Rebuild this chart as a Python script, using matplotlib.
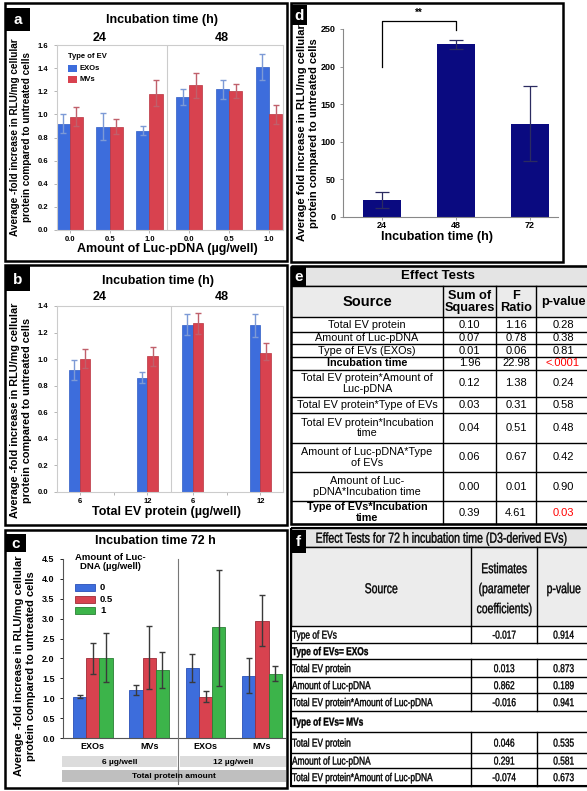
import numpy as np
import matplotlib
matplotlib.use("Agg")
import matplotlib.pyplot as plt
from matplotlib.patches import Rectangle, PathPatch
from matplotlib.textpath import TextPath
from matplotlib.transforms import Affine2D
from matplotlib import font_manager as fm

plt.rcParams["font.family"] = ["Liberation Sans", "DejaVu Sans"]

W, H = 587, 791

# ---------------- data ----------------
# a: fold increase by Luc-pDNA amount, split by incubation time (24 | 48 h)
a_doses = ["0.0", "0.5", "1.0", "0.0", "0.5", "1.0"]
a_exo = [0.92, 0.89, 0.86, 1.15, 1.22, 1.41]
a_exo_lo = [0.84, 0.78, 0.82, 1.08, 1.13, 1.30]
a_exo_hi = [1.00, 1.01, 0.90, 1.22, 1.30, 1.52]
a_mv = [0.98, 0.89, 1.18, 1.25, 1.20, 1.00]
a_mv_lo = [0.90, 0.83, 1.07, 1.14, 1.14, 0.92]
a_mv_hi = [1.06, 0.96, 1.30, 1.36, 1.26, 1.08]

# b: fold increase by total EV protein
b_protein = ["6", "12", "6", "12"]
b_exo = [0.92, 0.86, 1.26, 1.26]
b_exo_lo = [0.84, 0.82, 1.18, 1.17]
b_exo_hi = [0.99, 0.90, 1.34, 1.34]
b_mv = [1.00, 1.02, 1.27, 1.05]
b_mv_lo = [0.93, 0.95, 1.19, 0.99]
b_mv_hi = [1.08, 1.09, 1.35, 1.12]

# c: 72 h, groups EXOs/MVs at 6 and 12 ug/well, three Luc-DNA doses
c_groups = ["EXOs", "MVs", "EXOs", "MVs"]
c_doses = ["0", "0.5", "1"]
c_vals = [[1.03, 1.20, 1.76, 1.56],
          [2.00, 2.02, 1.03, 2.95],
          [2.02, 1.71, 2.78, 1.62]]
c_lo = [[1.00, 1.08, 1.42, 1.12],
        [1.61, 1.24, 0.90, 2.32],
        [1.40, 1.25, 1.31, 1.43]]
c_hi = [[1.07, 1.32, 2.12, 2.00],
        [2.40, 2.82, 1.19, 3.60],
        [2.65, 2.16, 4.22, 1.80]]
c_amounts = ["6 µg/well", "12 µg/well"]

# d: fold increase by incubation time
d_times = ["24", "48", "72"]
d_vals = [23, 230, 124]
d_lo = [12, 223, 75]
d_hi = [33, 236, 174]

# e: effect tests
e_source = ["Total EV protein", "Amount of Luc-pDNA", "Type of EVs (EXOs)",
            "Incubation time", "Total EV protein*Amount of\nLuc-pDNA",
            "Total EV protein*Type of EVs", "Total EV protein*Incubation\ntime",
            "Amount of Luc-pDNA*Type\nof EVs", "Amount of Luc-\npDNA*Incubation time",
            "Type of EVs*Incubation\ntime"]
e_ss = [0.10, 0.07, 0.01, 1.96, 0.12, 0.03, 0.04, 0.06, 0.00, 0.39]
e_f = [1.16, 0.78, 0.06, 22.98, 1.38, 0.31, 0.51, 0.67, 0.01, 4.61]
e_p = ["0.28", "0.38", "0.81", "<.0001", "0.24", "0.58", "0.48", "0.42", "0.90", "0.03"]
e_sig = [3, 9]

# f: effect tests for 72 h
f_source = ["Type of EVs", "Type of EVs= EXOs", "Total EV protein", "Amount of Luc-pDNA",
            "Total EV protein*Amount of Luc-pDNA", "Type of EVs= MVs", "Total EV protein",
            "Amount of Luc-pDNA", "Total EV protein*Amount of Luc-pDNA"]
f_est = ["-0.017", "", "0.013", "0.862", "-0.016", "", "0.046", "0.291", "-0.074"]
f_p = ["0.914", "", "0.873", "0.189", "0.941", "", "0.535", "0.581", "0.673"]
f_header_rows = [1, 5]

BLUE, BLUE_E, BLUE_ERR = "#3d6ddc", "#2f5cc4", "#7d9ad6"
RED, RED_E, RED_ERR = "#d8424f", "#b8343f", "#c0606b"
GREEN = "#3cb44a"
NAVY = "#0a0a80"

fig = plt.figure(figsize=(W / 100, H / 100), dpi=100)


def px_axes(x0, y0, x1, y1):
    return fig.add_axes([x0 / W, 1 - y1 / H, (x1 - x0) / W, (y1 - y0) / H])


def err(v, lo, hi):
    v, lo, hi = np.asarray(v), np.asarray(lo), np.asarray(hi)
    return [v - lo, hi - v]


def jmp_style(ax, ymax, step):
    ax.set_ylim(0, ymax)
    ax.set_yticks(np.arange(0, ymax + 1e-6, step))
    ax.yaxis.set_major_formatter("{x:.1f}")
    for s in ax.spines.values():
        s.set_color("#cccccc")
        s.set_linewidth(0.8)
    ax.tick_params(colors="#aaaaaa", labelcolor="black", labelsize=5.5, length=2.5, width=0.6)
    ax.tick_params(axis="x", pad=1.5)
    for lab in ax.get_yticklabels() + ax.get_xticklabels():
        lab.set_fontweight("bold")


# ---------------- panel a ----------------
ax = px_axes(57, 45, 283, 230)
xa = np.arange(len(a_doses))
wa = 0.33
ax.bar(xa - wa / 2, a_exo, wa, color=BLUE, edgecolor=BLUE_E, linewidth=0.5,
       yerr=err(a_exo, a_exo_lo, a_exo_hi),
       error_kw=dict(ecolor=BLUE_ERR, elinewidth=1, capsize=2.5, capthick=1))
ax.bar(xa + wa / 2, a_mv, wa, color=RED, edgecolor=RED_E, linewidth=0.5,
       yerr=err(a_mv, a_mv_lo, a_mv_hi),
       error_kw=dict(ecolor=RED_ERR, elinewidth=1, capsize=2.5, capthick=1))
ax.axvline(2.45, color="#cccccc", lw=0.8)
ax.set_xlim(-0.32, 5.35)
ax.set_xticks(xa, a_doses)
jmp_style(ax, 1.6, 0.2)

# ---------------- panel b ----------------
ax = px_axes(57, 306, 283, 492)
xb = np.array([1, 4, 6, 9])
wb = 0.48
ax.bar(xb - wb / 2, b_exo, wb, color=BLUE, edgecolor=BLUE_E, linewidth=0.5,
       yerr=err(b_exo, b_exo_lo, b_exo_hi),
       error_kw=dict(ecolor=BLUE_ERR, elinewidth=1, capsize=2.5, capthick=1))
ax.bar(xb + wb / 2, b_mv, wb, color=RED, edgecolor=RED_E, linewidth=0.5,
       yerr=err(b_mv, b_mv_lo, b_mv_hi),
       error_kw=dict(ecolor=RED_ERR, elinewidth=1, capsize=2.5, capthick=1))
ax.axvline(5.05, color="#cccccc", lw=0.8)
ax.set_xlim(0, 10)
ax.set_xticks(xb, b_protein)
ax.set_xticks([2.5, 7.5], minor=True)
ax.tick_params(which="minor", length=2.5, color="#aaaaaa")
jmp_style(ax, 1.4, 0.2)

# ---------------- panel c ----------------
ax = px_axes(63, 559, 285, 738)
xc = np.arange(len(c_groups))
wc = 0.235
c_cols = [BLUE, RED, GREEN]
c_edges = ["#2a50b8", "#9e2c37", "#2a8034"]
for i in range(3):
    ax.bar(xc + (i - 1) * wc, c_vals[i], wc, color=c_cols[i], edgecolor=c_edges[i], linewidth=0.6,
           yerr=err(c_vals[i], c_lo[i], c_hi[i]),
           error_kw=dict(ecolor="#3a3a3a", elinewidth=1, capsize=2.5, capthick=1))
ax.set_xlim(-0.53, 3.41)
ax.set_ylim(0, 4.5)
ax.set_yticks(np.arange(0, 4.51, 0.5))
ax.yaxis.set_major_formatter("{x:.1f}")
ax.set_xticks(xc, c_groups)
ax.spines[["top", "right"]].set_visible(False)
for s in ["left", "bottom"]:
    ax.spines[s].set_color("#555555")
    ax.spines[s].set_linewidth(0.8)
ax.tick_params(axis="y", labelsize=6.5, length=2.5, width=0.6)
ax.tick_params(axis="x", labelsize=6.5, length=0, pad=3)
for lab in ax.get_yticklabels() + ax.get_xticklabels():
    lab.set_fontweight("bold")

# ---------------- panel d ----------------
ax = px_axes(343, 29, 558, 217)
xd = np.arange(len(d_times))
ax.bar(xd, d_vals, 0.51, color=NAVY,
       yerr=err(d_vals, d_lo, d_hi),
       error_kw=dict(ecolor="#2b2b60", elinewidth=0.9, capsize=5, capthick=0.9))
ax.plot([0, 0, 1, 1], [200, 261, 261, 249], color="black", lw=0.9, clip_on=False)
ax.text(0.5, 265, "**", ha="center", va="bottom", fontsize=7, fontweight="bold")
ax.set_xlim(-0.53, 2.38)
ax.set_ylim(0, 250)
ax.set_yticks(np.arange(0, 251, 50))
ax.set_xticks(xd, d_times)
ax.spines[["top", "right"]].set_visible(False)
for s in ["left", "bottom"]:
    ax.spines[s].set_color("#888888")
    ax.spines[s].set_linewidth(0.8)
ax.tick_params(labelsize=6.5, length=2, width=0.6, colors="#888888", labelcolor="black")
ax.tick_params(axis="x", pad=1)
for lab in ax.get_yticklabels() + ax.get_xticklabels():
    lab.set_fontweight("bold")

# ---------------- overlay: frames, labels, tables ----------------
ov = fig.add_axes([0, 0, 1, 1], zorder=10)
ov.set_xlim(0, W)
ov.set_ylim(H, 0)
ov.axis("off")
ov.patch.set_alpha(0)


def box(x0, y0, x1, y1, lw=1.8, fc="none", ec="black", z=1):
    r = Rectangle((x0, y0), x1 - x0, y1 - y0, fc=fc, ec=ec, lw=lw, zorder=z)
    ov.add_patch(r)
    return r


def letter(x0, y0, x1, y1, s):
    box(x0, y0, x1, y1, lw=0, fc="black", z=5)
    ov.text((x0 + x1) / 2, (y0 + y1) / 2 + 1, s, color="white", fontsize=11,
            fontweight="bold", ha="center", va="center", zorder=6)


def ntext(x, y, s, size, ha="left", weight="normal", sx=0.73, lh=1.15):
    """Condensed text (Arial Narrow look) drawn as a squeezed glyph path, size in px."""
    prop = fm.FontProperties(family="Liberation Sans", weight=weight)
    lines = s.split("\n")
    y_top = y - (len(lines) - 1) * size * lh / 2
    for k, line in enumerate(lines):
        tp = TextPath((0, 0), line, size=size, prop=prop)
        w = tp.get_extents().x1 * sx
        x0 = x - w / 2 if ha == "center" else x
        base = y_top + k * size * lh + 0.36 * size
        tr = Affine2D().scale(sx, -1).translate(x0, base) + ov.transData
        ov.add_patch(PathPatch(tp, transform=tr, fc="black", ec="black", lw=0.25, zorder=4))


YLAB = "Average -fold increase in RLU/mg cellular\nprotein compared to untreated cells"

# panel frames
box(5, 3, 287, 261)
box(5, 265, 287, 525)
box(5, 530, 287, 788)
fd = box(291, 3, 563, 262)

# a texts
letter(6, 8, 30, 31, "a")
ov.text(162, 20, "Incubation time (h)", ha="center", va="center", fontsize=9, fontweight="bold")
ov.text(100, 38, "24", ha="center", va="center", fontsize=9, fontweight="bold")
ov.text(222, 38, "48", ha="center", va="center", fontsize=9, fontweight="bold")
ov.text(21, 137, YLAB, rotation=90, ha="center", va="center", fontsize=7.2,
        fontweight="bold", linespacing=1.15)
ov.text(167, 249, "Amount of Luc-pDNA (µg/well)", ha="center", va="center",
        fontsize=9, fontweight="bold")
ov.text(68, 56, "Type of EV", ha="left", va="center", fontsize=5.5, fontweight="bold")
for j, (lab, col) in enumerate(zip(["EXOs", "MVs"], [BLUE, RED])):
    box(68, 65 + j * 11, 77, 72 + j * 11, lw=0, fc=col)
    ov.text(79, 68.5 + j * 11, lab, ha="left", va="center", fontsize=5.5, fontweight="bold")

# b texts
letter(6, 266, 30, 291, "b")
ov.text(158, 281, "Incubation time (h)", ha="center", va="center", fontsize=9, fontweight="bold")
ov.text(100, 297, "24", ha="center", va="center", fontsize=9, fontweight="bold")
ov.text(222, 297, "48", ha="center", va="center", fontsize=9, fontweight="bold")
ov.text(21, 410, YLAB, rotation=90, ha="center", va="center", fontsize=7.8,
        fontweight="bold", linespacing=1.15)
ov.text(167, 512, "Total EV protein (µg/well)", ha="center", va="center",
        fontsize=9, fontweight="bold")

# c texts
letter(6, 534, 26, 552, "c")
ov.text(155, 541, "Incubation time 72 h", ha="center", va="center", fontsize=9, fontweight="bold")
ov.text(25, 666, YLAB, rotation=90, ha="center", va="center", fontsize=8,
        fontweight="bold", linespacing=1.15)
ov.text(110, 562, "Amount of Luc-\nDNA (µg/well)", ha="center", va="center", fontsize=6.8,
        fontweight="bold", linespacing=1.1)
for j, (lab, col, ec) in enumerate(zip(c_doses, c_cols, c_edges)):
    box(75, 584 + j * 11.5, 95, 591 + j * 11.5, lw=0.6, fc=col, ec=ec)
    ov.text(100, 587.5 + j * 11.5, lab, ha="left", va="center", fontsize=6.8, fontweight="bold")
ov.plot([178, 178], [559, 784], color="#777777", lw=0.8)
box(62, 756, 177, 767, lw=0, fc="#dcdcdc")
box(180, 756, 286, 767, lw=0, fc="#dcdcdc")
box(62, 770, 286, 782, lw=0, fc="#bfbfbf")
ov.text(120, 762, c_amounts[0], ha="center", va="center", fontsize=6, fontweight="bold")
ov.text(233, 762, c_amounts[1], ha="center", va="center", fontsize=6, fontweight="bold")
ov.text(174, 776.5, "Total protein amount", ha="center", va="center", fontsize=6, fontweight="bold")

# d texts
letter(292, 5, 307, 25, "d")
t = ov.text(308, 133, "Average fold increase in RLU/mg cellular\nprotein compared to untreated cells",
            rotation=90, ha="center", va="center", fontsize=8, fontweight="bold", linespacing=1.15)
t.set_clip_path(fd)
ov.text(437, 237, "Incubation time (h)", ha="center", va="center", fontsize=9, fontweight="bold")

# e table
e_cols = [291, 443, 496, 536, 590]
e_rows = [317, 332, 344, 357, 370, 397, 413, 443, 472, 501, 524]
box(291, 266, 590, 286, lw=1, fc="#e4e4e4")
box(291, 286, 590, 317, lw=1, fc="#ebebeb")
letter(291, 266, 306, 286, "e")
ov.text(438, 276, "Effect Tests", ha="center", va="center", fontsize=9.5, fontweight="bold")
for k, s in enumerate(["Source", "Sum of\nSquares", "F\nRatio", "p-value"]):
    ov.text((e_cols[k] + e_cols[k + 1]) / 2, 302, s, ha="center", va="center",
            fontsize=10.5 if k == 0 else 9.2, fontweight="bold", linespacing=1.0)
for xx in e_cols[1:-1]:
    ov.plot([xx, xx], [286, 524], color="black", lw=1)
for i in range(len(e_source)):
    y0, y1 = e_rows[i], e_rows[i + 1]
    ov.plot([291, 590], [y1, y1], color="black", lw=1)
    yc = (y0 + y1) / 2
    wt = "bold" if i in e_sig else "normal"
    ov.text((e_cols[0] + e_cols[1]) / 2, yc, e_source[i], ha="center", va="center",
            fontsize=7.8, fontweight=wt, linespacing=1.05)
    ov.text((e_cols[1] + e_cols[2]) / 2, yc, f"{e_ss[i]:.2f}", ha="center", va="center", fontsize=8)
    ov.text((e_cols[2] + e_cols[3]) / 2, yc, f"{e_f[i]:.2f}", ha="center", va="center", fontsize=8)
    ov.text((e_cols[3] + e_cols[4]) / 2, yc, e_p[i], ha="center", va="center", fontsize=8,
            color="red" if i in e_sig else "black")
box(291, 266, 590, 524, lw=1.8)

# f table
f_cols = [291, 471, 537, 590]
f_rows = [626, 643, 659, 677, 693, 711, 732, 753, 768, 786]
box(291, 528, 590, 547, lw=1, fc="#e4e4e4")
box(291, 547, 590, 626, lw=1, fc="#ececec")
letter(291, 530, 306, 553, "f")
ntext(441, 537.5, "Effect Tests for 72 h incubation time (D3-derived EVs)", 14.5, ha="center")
for k, s in enumerate(["Source", "Estimates\n(parameter\ncoefficients)", "p-value"]):
    ntext((f_cols[k] + f_cols[k + 1]) / 2, 588, s, 14.3, ha="center", lh=1.4)
ov.plot([f_cols[1]] * 2, [547, 626], color="black", lw=1)
ov.plot([f_cols[2]] * 2, [547, 626], color="black", lw=1)
for i in range(len(f_source)):
    y0, y1 = f_rows[i], f_rows[i + 1]
    yc = (y0 + y1) / 2
    ov.plot([291, 590], [y1, y1], color="black", lw=1)
    if i in f_header_rows:
        ntext(292, yc, f_source[i], 11.4, weight="bold")
        continue
    for xx in f_cols[1:3]:
        ov.plot([xx, xx], [y0, y1], color="black", lw=1)
    ntext(292, yc, f_source[i], 11.4)
    ntext((f_cols[1] + f_cols[2]) / 2, yc, f_est[i], 11.4, ha="center")
    ntext((f_cols[2] + f_cols[3]) / 2, yc, f_p[i], 11.4, ha="center")
box(291, 528, 590, 786, lw=1.5)

fig.savefig("out.png", dpi=100)
